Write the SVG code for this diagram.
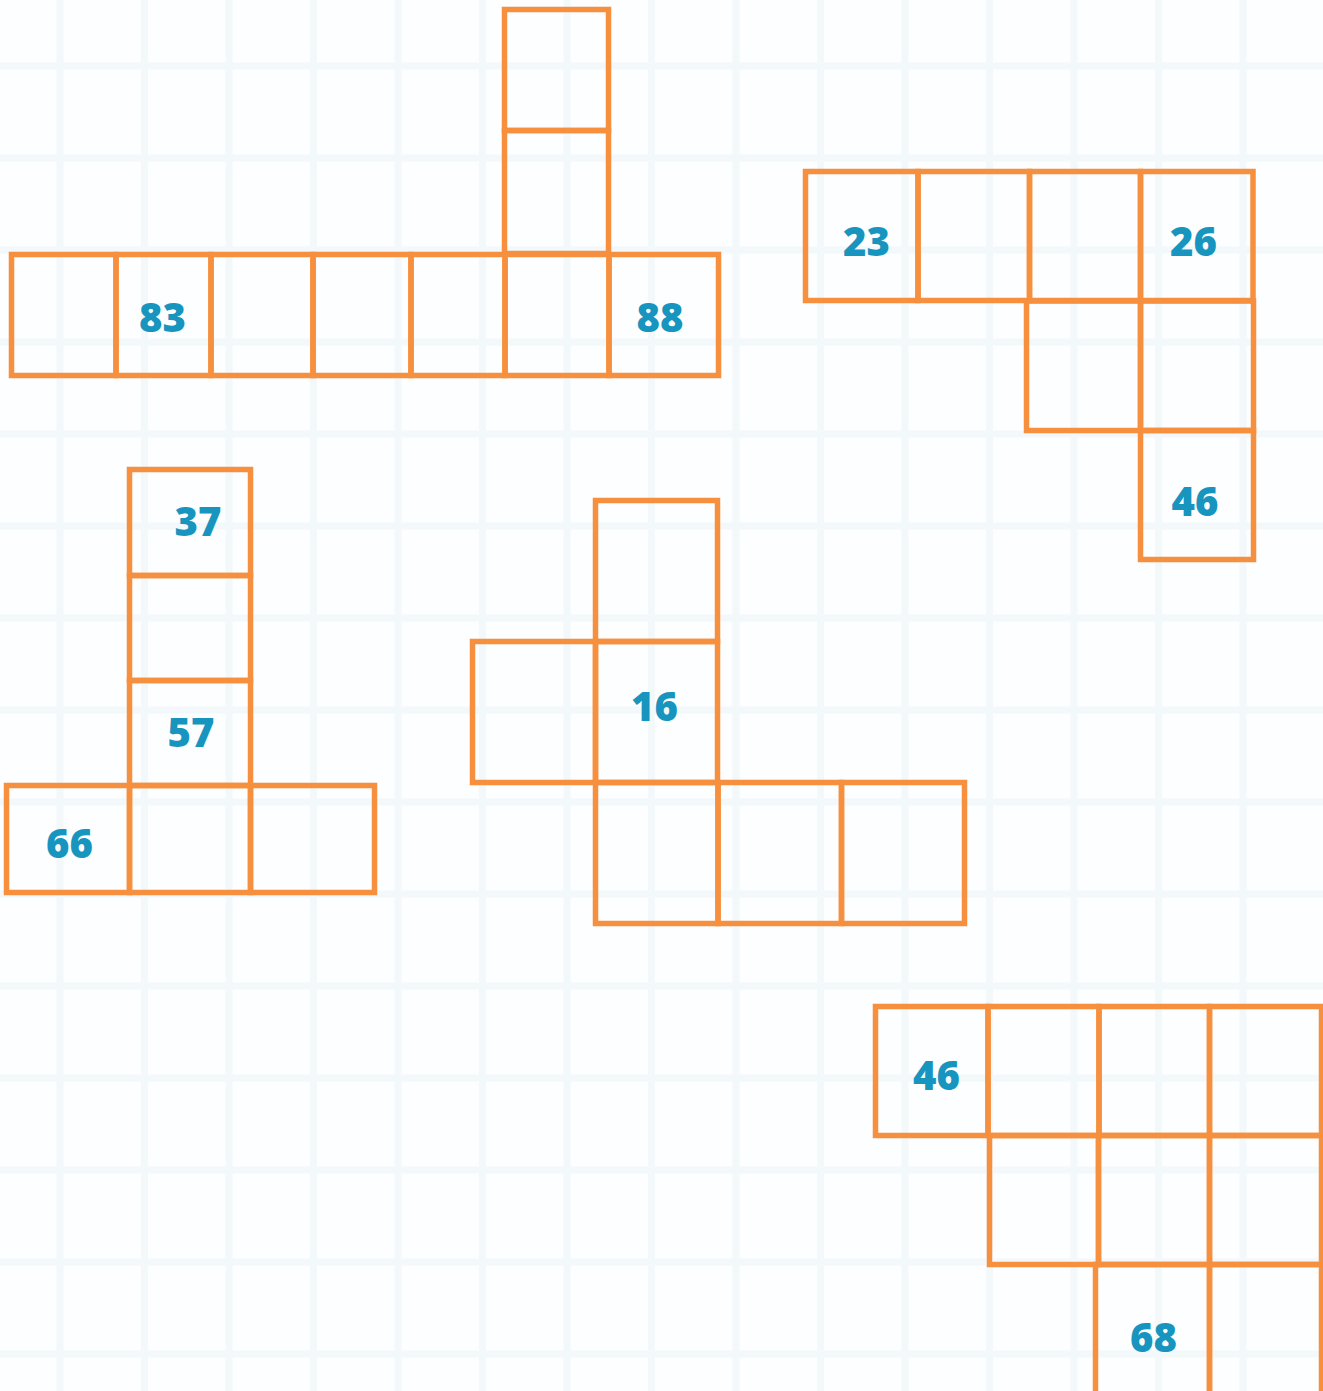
<svg xmlns="http://www.w3.org/2000/svg" width="1323" height="1391" viewBox="0 0 1323 1391">
<style>
.g{stroke:#f3f8fb;stroke-width:7;fill:none}
.c{fill:none;stroke:#f6903f;stroke-width:5.5}
.n{font-family:"Open Sans","Liberation Sans",sans-serif;font-weight:800;font-size:40px;fill:#1795be;text-anchor:middle}
</style>
<rect width="1323" height="1391" fill="#fdfeff"/>
<g id="grid" class="g">
<path d="M60 0V1391M144.5 0V1391M229 0V1391M313.5 0V1391M398 0V1391M482.5 0V1391M567 0V1391M651.5 0V1391M736 0V1391M820.5 0V1391M905 0V1391M989.5 0V1391M1074 0V1391M1158.5 0V1391M1243 0V1391"/>
<path d="M0 66H1323M0 158H1323M0 250H1323M0 342H1323M0 434H1323M0 526H1323M0 618H1323M0 710H1323M0 802H1323M0 894H1323M0 986H1323M0 1078H1323M0 1170H1323M0 1262H1323M0 1354H1323"/>
</g>
<g id="shape1">
<rect class="c" x="504.5" y="9.5" width="104" height="121"/>
<rect class="c" x="504.5" y="130.5" width="104" height="123"/>
<rect class="c" x="11.5" y="254.5" width="104.5" height="121"/>
<rect class="c" x="116" y="254.5" width="95" height="121"/>
<rect class="c" x="211" y="254.5" width="102" height="121"/>
<rect class="c" x="313" y="254.5" width="98" height="121"/>
<rect class="c" x="411" y="254.5" width="94" height="121"/>
<rect class="c" x="505" y="254.5" width="104" height="121"/>
<rect class="c" x="609" y="254.5" width="109.5" height="121"/>
<text class="n" x="162.5" y="332">83</text>
<text class="n" x="660" y="332">88</text>
</g>
<g id="shape2">
<rect class="c" x="805.5" y="171.5" width="112.5" height="129"/>
<rect class="c" x="918" y="171.5" width="111.5" height="129"/>
<rect class="c" x="1029.5" y="171.5" width="111" height="129"/>
<rect class="c" x="1140.5" y="171.5" width="112.5" height="129"/>
<rect class="c" x="1026.5" y="301" width="114" height="129.5"/>
<rect class="c" x="1140.5" y="301" width="113" height="129.5"/>
<rect class="c" x="1140.5" y="430.5" width="113" height="129"/>
<text class="n" x="866.5" y="256">23</text>
<text class="n" x="1193.5" y="256">26</text>
<text class="n" x="1195" y="516">46</text>
</g>
<g id="shape3">
<rect class="c" x="129.5" y="469.5" width="121" height="106"/>
<rect class="c" x="129.5" y="575.5" width="121" height="105"/>
<rect class="c" x="129.5" y="680.5" width="121" height="105"/>
<rect class="c" x="6.5" y="785.5" width="123" height="107"/>
<rect class="c" x="129.5" y="785.5" width="121" height="107"/>
<rect class="c" x="250.5" y="785.5" width="124" height="107"/>
<text class="n" x="198" y="536">37</text>
<text class="n" x="191" y="747">57</text>
<text class="n" x="69.5" y="858">66</text>
</g>
<g id="shape4">
<rect class="c" x="595.5" y="500.5" width="122" height="141"/>
<rect class="c" x="472.5" y="641.5" width="123" height="141"/>
<rect class="c" x="595.5" y="641.5" width="122" height="141"/>
<rect class="c" x="595.5" y="782.5" width="122.5" height="141"/>
<rect class="c" x="718" y="782.5" width="123.5" height="141"/>
<rect class="c" x="841.5" y="782.5" width="123" height="141"/>
<text class="n" x="654.5" y="721">16</text>
</g>
<g id="shape5">
<rect class="c" x="875.5" y="1006.5" width="112.5" height="129"/>
<rect class="c" x="988" y="1006.5" width="111" height="129"/>
<rect class="c" x="1099" y="1006.5" width="110.5" height="129"/>
<rect class="c" x="1209.5" y="1006.5" width="112" height="129"/>
<rect class="c" x="989.5" y="1135.5" width="109" height="129"/>
<rect class="c" x="1098.5" y="1135.5" width="111" height="129"/>
<rect class="c" x="1209.5" y="1135.5" width="112" height="129"/>
<rect class="c" x="1095.5" y="1264.5" width="114" height="140"/>
<rect class="c" x="1209.5" y="1264.5" width="112" height="140"/>
<text class="n" x="936.5" y="1090">46</text>
<text class="n" x="1153.5" y="1352">68</text>
</g>
</svg>
